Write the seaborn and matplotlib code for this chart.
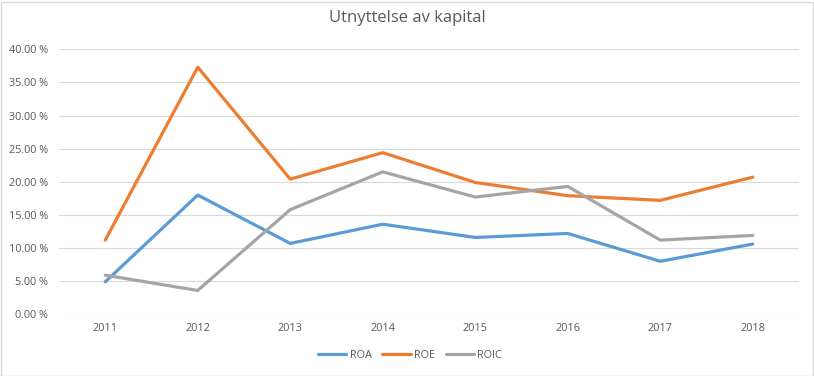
import matplotlib
matplotlib.use("Agg")
import matplotlib.pyplot as plt
import seaborn as sns
import pandas as pd
from matplotlib.ticker import FuncFormatter

years = ["2011", "2012", "2013", "2014", "2015", "2016", "2017", "2018"]
roa = [4.9, 18.0, 10.7, 13.6, 11.6, 12.2, 8.0, 10.6]
roe = [11.2, 37.3, 20.4, 24.4, 19.9, 17.9, 17.2, 20.7]
roic = [5.9, 3.6, 15.8, 21.5, 17.7, 19.3, 11.2, 11.9]
series_names = ["ROA", "ROE", "ROIC"]
colors = ["#5B9BD5", "#ED7D31", "#A5A5A5"]

df = pd.concat([
    pd.DataFrame({"Year": years, "Value": vals, "Series": name})
    for name, vals in zip(series_names, [roa, roe, roic])
], ignore_index=True)

sns.set_theme(style="white")
plt.rcParams["font.family"] = ["Open Sans", "DejaVu Sans"]

fig = plt.figure(figsize=(8.14, 3.76), dpi=100)
ax = fig.add_axes([59 / 814, 1 - 314.3 / 376, 740 / 814, (314.3 - 49.3) / 376])

sns.lineplot(data=df, x="Year", y="Value", hue="Series", palette=colors,
             hue_order=series_names, linewidth=2.3, ax=ax, sort=False)

ax.set_ylim(0, 40)
ax.set_xlim(-0.5, 7.5)
ax.set_yticks([0, 5, 10, 15, 20, 25, 30, 35, 40])
ax.yaxis.set_major_formatter(FuncFormatter(lambda v, p: f"{v:.2f} %"))
ax.grid(axis="y", color="#D9D9D9", linewidth=0.8)
ax.set_axisbelow(True)
for s in ax.spines.values():
    s.set_visible(False)
ax.tick_params(axis="both", length=0, labelsize=7.8, colors="#595959", pad=6)
ax.tick_params(axis="y", pad=8)
ax.set_xlabel("")
ax.set_ylabel("")

fig.text(0.5, 1 - 18 / 376, "Utnyttelse av kapital", ha="center", va="center",
         fontsize=12, color="#595959")

handles, labels = ax.get_legend_handles_labels()
ax.get_legend().remove()
leg = fig.legend(handles, labels, loc="center", bbox_to_anchor=(410 / 814, 1 - 355 / 376),
                 ncol=3, frameon=False, fontsize=7.8, handlelength=2.6,
                 handletextpad=0.3, columnspacing=1.0)
for t in leg.get_texts():
    t.set_color("#595959")

fig.patches.append(plt.Rectangle((0.5 / 814, 0.5 / 376), 812 / 814, 374 / 376,
                                 transform=fig.transFigure, fill=False,
                                 edgecolor="#D9D9D9", linewidth=1))

fig.savefig("out.png", dpi=100)
